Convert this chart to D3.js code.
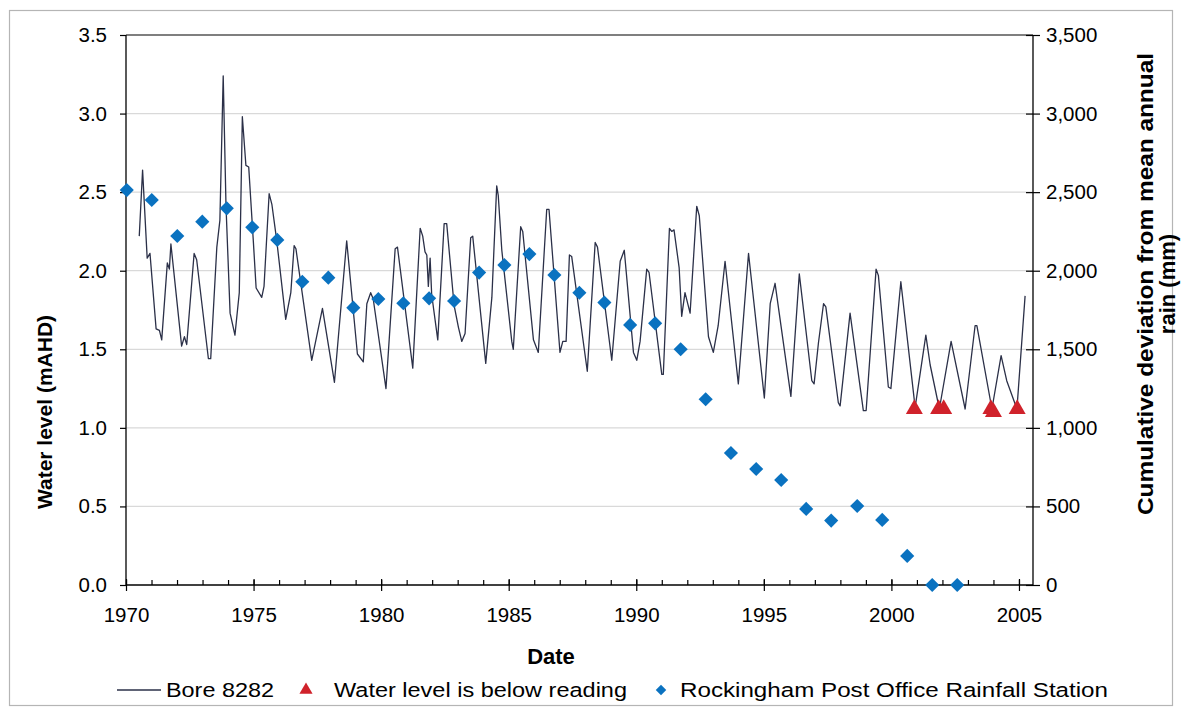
<!DOCTYPE html>
<html>
<head>
<meta charset="utf-8">
<script src="https://cdn.jsdelivr.net/npm/d3@7"></script>
<style>
  html, body { margin: 0; padding: 0; background: #fff; }
  svg { display: block; font-family: "Liberation Sans", Arial, sans-serif; }
</style>
</head>
<body>
<svg id="chart" width="1182" height="716"></svg>
<script>
// Bore 8282 water level (decimal year, mAHD)
const boreDates = [
  1970.52, 1970.65, 1970.83, 1970.94, 1971.18, 1971.31, 1971.40, 1971.62, 1971.70, 1971.76,
  1972.18, 1972.29, 1972.38, 1972.67, 1972.77, 1973.23, 1973.32, 1973.56, 1973.68, 1973.81,
  1973.92, 1974.08, 1974.27, 1974.44, 1974.56, 1974.70, 1974.81, 1974.99, 1975.10, 1975.32,
  1975.41, 1975.61, 1975.72, 1975.91, 1976.26, 1976.46, 1976.59, 1976.66, 1977.28, 1977.70,
  1978.17, 1978.65, 1979.07, 1979.30, 1979.44, 1979.59, 1979.69, 1980.19, 1980.55, 1980.64,
  1981.24, 1981.53, 1981.63, 1981.72, 1981.79, 1981.85, 1981.92, 1981.98, 1982.22, 1982.47,
  1982.57, 1982.86, 1983.03, 1983.16, 1983.29, 1983.51, 1983.59, 1984.10, 1984.34, 1984.53,
  1984.59, 1984.73, 1985.12, 1985.18, 1985.47, 1985.55, 1985.97, 1986.16, 1986.49, 1986.58,
  1987.01, 1987.12, 1987.25, 1987.38, 1987.47, 1988.08, 1988.39, 1988.48, 1989.04, 1989.37,
  1989.53, 1989.89, 1990.02, 1990.15, 1990.41, 1990.50, 1991.00, 1991.06, 1991.30, 1991.39,
  1991.48, 1991.68, 1991.78, 1991.91, 1992.11, 1992.37, 1992.47, 1992.83, 1993.02, 1993.21,
  1993.48, 1994.00, 1994.40, 1995.02, 1995.25, 1995.44, 1996.06, 1996.39, 1996.88, 1996.97,
  1997.14, 1997.34, 1997.43, 1997.92, 1997.99, 1998.38, 1998.90, 1999.01, 1999.40, 1999.49,
  1999.88, 1999.98, 2000.37, 2000.93, 2001.35, 2001.52, 2001.88, 2002.34, 2002.89, 2003.28,
  2003.35, 2003.94, 2004.30, 2004.52, 2004.92, 2005.24
];
const boreLevels = [
  2.22, 2.64, 2.08, 2.11, 1.63, 1.62, 1.56, 2.05, 2.01, 2.17,
  1.52, 1.58, 1.53, 2.11, 2.07, 1.44, 1.44, 2.15, 2.32, 3.24,
  2.41, 1.73, 1.59, 1.86, 2.98, 2.67, 2.66, 2.19, 1.89, 1.83,
  1.90, 2.49, 2.42, 2.19, 1.69, 1.86, 2.16, 2.14, 1.43, 1.76,
  1.29, 2.19, 1.47, 1.42, 1.79, 1.86, 1.82, 1.25, 2.14, 2.15,
  1.38, 2.27, 2.22, 2.12, 2.10, 1.90, 2.08, 1.85, 1.56, 2.30,
  2.30, 1.78, 1.64, 1.55, 1.60, 2.21, 2.22, 1.41, 1.83, 2.54,
  2.48, 2.13, 1.55, 1.50, 2.28, 2.25, 1.56, 1.48, 2.39, 2.39,
  1.48, 1.55, 1.55, 2.10, 2.09, 1.36, 2.18, 2.15, 1.43, 2.06,
  2.13, 1.48, 1.43, 1.55, 2.01, 1.99, 1.34, 1.34, 2.27, 2.25,
  2.26, 2.02, 1.71, 1.86, 1.73, 2.41, 2.35, 1.58, 1.48, 1.65,
  2.06, 1.28, 2.11, 1.19, 1.79, 1.92, 1.20, 1.98, 1.30, 1.28,
  1.54, 1.79, 1.77, 1.16, 1.14, 1.73, 1.11, 1.11, 2.01, 1.97,
  1.26, 1.25, 1.93, 1.13, 1.59, 1.40, 1.12, 1.55, 1.12, 1.65,
  1.65, 1.12, 1.46, 1.30, 1.12, 1.84
];

// Readings where the water level was below the gauge (mAHD)
const belowDates = [2000.90, 2001.85, 2002.05, 2003.90, 2004.00, 2004.93];
const belowLevels = [1.12, 1.12, 1.12, 1.12, 1.10, 1.12];

// Rockingham Post Office: cumulative deviation from mean annual rain (mm)
const rainDates = [
  1970.03, 1971.01, 1972.01, 1972.99, 1973.95, 1974.95, 1975.93, 1976.91, 1977.93, 1978.91,
  1979.89, 1980.87, 1981.88, 1982.86, 1983.84, 1984.83, 1985.81, 1986.79, 1987.77, 1988.75,
  1989.76, 1990.74, 1991.74, 1992.72, 1993.71, 1994.70, 1995.68, 1996.66, 1997.64, 1998.66,
  1999.64, 2000.62, 2001.60, 2002.58
];
const rainDeviation = [
  2513, 2450, 2221, 2312, 2397, 2276, 2196, 1930, 1956, 1765,
  1820, 1793, 1824, 1807, 1988, 2036, 2106, 1973, 1860, 1797,
  1655, 1665, 1500, 1182, 840, 738, 668, 484, 410, 503,
  414, 185, 0, 0
];

// Axis ticks
const yearMajor = [1970, 1975, 1980, 1985, 1990, 1995, 2000, 2005];
const yearMinor = d3.range(1970, 2006);
const levelTicks = [0, 0.5, 1.0, 1.5, 2.0, 2.5, 3.0, 3.5];
const rainTicks = [0, 500, 1000, 1500, 2000, 2500, 3000, 3500];

const legendLabels = ["Bore 8282", "Water level is below reading", "Rockingham Post Office Rainfall Station"];

const svg = d3.select("#chart");
const plot = { left: 126, right: 1033, top: 35, bottom: 585 };

const x = d3.scaleLinear().domain([1970, 2005.55]).range([plot.left, plot.right]);
const yL = d3.scaleLinear().domain([0, 3.5]).range([plot.bottom, plot.top]);
const yR = d3.scaleLinear().domain([0, 3500]).range([plot.bottom, plot.top]);

// outer frame
svg.append("rect")
  .attr("x", 9.5).attr("y", 10.5).attr("width", 1163).attr("height", 695)
  .attr("fill", "#fff").attr("stroke", "#b5b5b5").attr("stroke-width", 1.2);

// horizontal gridlines
svg.append("g")
  .selectAll("line")
  .data(levelTicks.filter(d => d > 0 && d < 3.5))
  .join("line")
  .attr("x1", plot.left).attr("x2", plot.right)
  .attr("y1", d => yL(d)).attr("y2", d => yL(d))
  .attr("stroke", "#d9d9d9").attr("stroke-width", 1.3);

// plot-area top edge
svg.append("line")
  .attr("x1", plot.left).attr("x2", plot.right)
  .attr("y1", plot.top).attr("y2", plot.top)
  .attr("stroke", "#555").attr("stroke-width", 1.5);

const tickFont = 20.5;

// left axis
const gL = svg.append("g")
  .attr("transform", `translate(${plot.left},0)`)
  .call(d3.axisLeft(yL).tickValues(levelTicks).tickFormat(d3.format(".1f")).tickSize(6).tickPadding(13));

// right axis (ticks cross the axis line)
const gR = svg.append("g")
  .attr("transform", `translate(${plot.right},0)`)
  .call(d3.axisRight(yR).tickValues(rainTicks).tickFormat(d3.format(",")).tickSize(7).tickPadding(6));
gR.selectAll(".tick line").attr("x1", -7);

// bottom axis: minor yearly ticks inside, major 5-year ticks crossing
const gMinor = svg.append("g")
  .attr("transform", `translate(0,${plot.bottom})`)
  .call(d3.axisBottom(x).tickValues(yearMinor).tickSize(-5).tickFormat(""));
gMinor.select(".domain").remove();

const gB = svg.append("g")
  .attr("transform", `translate(0,${plot.bottom})`)
  .call(d3.axisBottom(x).tickValues(yearMajor).tickFormat(d3.format("d")).tickSize(6).tickPadding(16));
gB.selectAll(".tick line").attr("y1", -6);

[gL, gR, gMinor, gB].forEach(g => {
  g.selectAll(".domain").attr("stroke", "#000").attr("stroke-width", 1.3);
  g.selectAll(".tick line").attr("stroke", "#000").attr("stroke-width", 1.2);
  g.selectAll(".tick text").attr("font-size", tickFont).attr("fill", "#000")
    .attr("font-family", "'Liberation Sans', Arial, sans-serif");
});
gL.select(".domain").attr("d", `M0,${plot.bottom}V${plot.top}`);
gR.select(".domain").attr("d", `M0,${plot.bottom}V${plot.top}`);
gB.select(".domain").attr("d", `M${plot.left},0H${plot.right}`);

// bore hydrograph
const bore = boreDates.map((d, i) => [d, boreLevels[i]]);
svg.append("path")
  .datum(bore)
  .attr("fill", "none")
  .attr("stroke", "#2b3048")
  .attr("stroke-width", 1.3)
  .attr("stroke-linejoin", "round")
  .attr("d", d3.line().x(d => x(d[0])).y(d => yL(d[1])));

// rainfall cumulative deviation markers
const diamond = d3.symbol(d3.symbolSquare, 100);
svg.append("g")
  .selectAll("path")
  .data(rainDates.map((d, i) => [d, rainDeviation[i]]))
  .join("path")
  .attr("d", diamond)
  .attr("fill", "#0a72c0")
  .attr("transform", d => `translate(${x(d[0])},${yR(d[1])}) rotate(45)`);

// below-reading markers
const tri = d3.symbol(d3.symbolTriangle, 125);
svg.append("g")
  .selectAll("path")
  .data(belowDates.map((d, i) => [d, belowLevels[i]]))
  .join("path")
  .attr("d", tri)
  .attr("fill", "#d0222b")
  .attr("transform", d => `translate(${x(d[0])},${yL(d[1])})`);

// axis titles
svg.append("text")
  .attr("x", 551).attr("y", 664)
  .attr("text-anchor", "middle")
  .attr("font-size", 22).attr("font-weight", "bold")
  .text("Date");

svg.append("text")
  .attr("transform", "translate(52,412) rotate(-90)")
  .attr("text-anchor", "middle")
  .attr("font-size", 21).attr("font-weight", "bold")
  .text("Water level (mAHD)");

const rt = svg.append("text")
  .attr("transform", "translate(1147,284) rotate(-90)")
  .attr("text-anchor", "middle")
  .attr("font-size", 22).attr("font-weight", "bold");
rt.append("tspan").attr("x", 0).attr("dy", 6)
  .attr("textLength", 462).attr("lengthAdjust", "spacingAndGlyphs")
  .text("Cumulative deviation from mean annual");
rt.append("tspan").attr("x", 0).attr("dy", 22).text("rain (mm)");

// legend
const lg = svg.append("g").attr("font-size", 20.5);
lg.append("line").attr("x1", 117).attr("x2", 161).attr("y1", 690).attr("y2", 690)
  .attr("stroke", "#2b3048").attr("stroke-width", 1.4);
lg.append("text").attr("x", 166).attr("y", 697)
  .attr("textLength", 108).attr("lengthAdjust", "spacingAndGlyphs").text(legendLabels[0]);
lg.append("path").attr("d", d3.symbol(d3.symbolTriangle, 75))
  .attr("fill", "#d0222b").attr("transform", "translate(306,690)");
lg.append("text").attr("x", 334).attr("y", 697)
  .attr("textLength", 293).attr("lengthAdjust", "spacingAndGlyphs").text(legendLabels[1]);
lg.append("path").attr("d", d3.symbol(d3.symbolSquare, 55))
  .attr("fill", "#0a72c0").attr("transform", "translate(661,690) rotate(45)");
lg.append("text").attr("x", 680).attr("y", 697)
  .attr("textLength", 428).attr("lengthAdjust", "spacingAndGlyphs").text(legendLabels[2]);
</script>
</body>
</html>
